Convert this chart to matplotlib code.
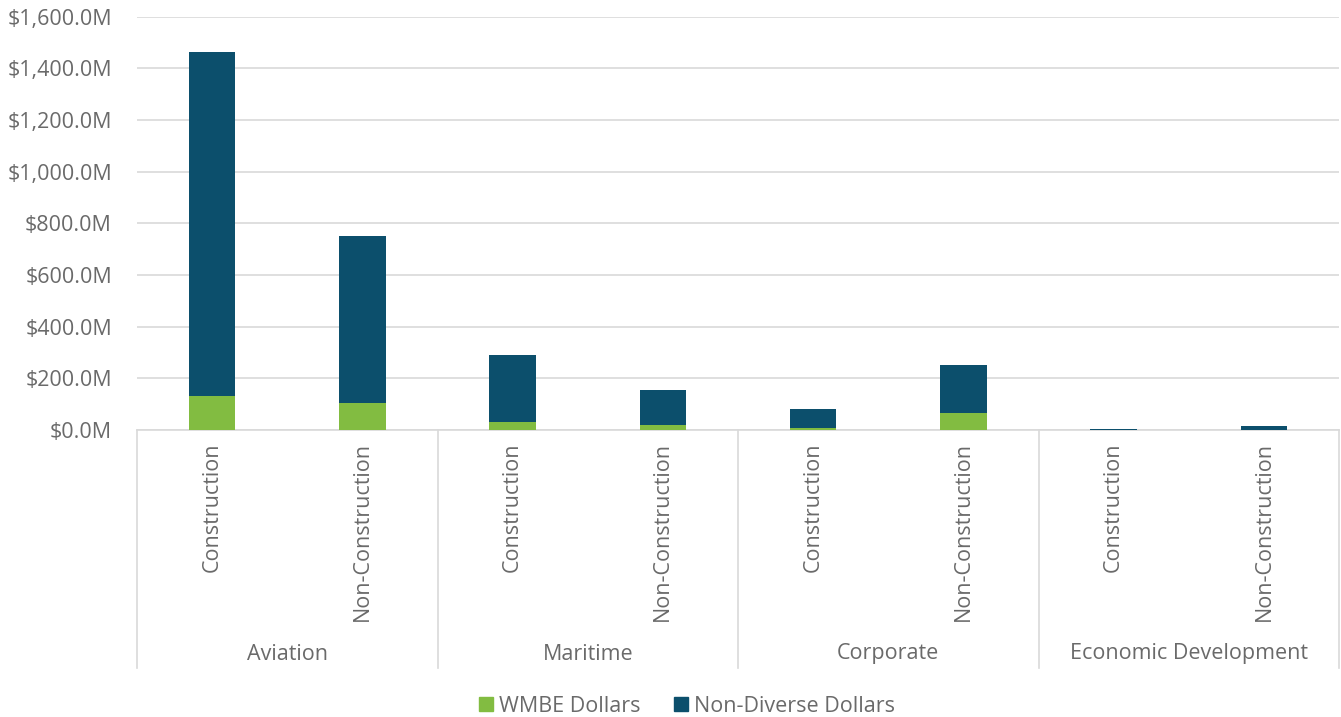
import matplotlib.pyplot as plt
import matplotlib.transforms as mtransforms
from matplotlib.patches import Patch
from matplotlib.ticker import FuncFormatter

plt.rcParams["font.family"] = ["Open Sans", "DejaVu Sans"]

groups = ["Aviation", "Maritime", "Corporate", "Economic Development"]
kinds = ["Construction", "Non-Construction"]

# $M, in group order, Construction then Non-Construction
wmbe = [133, 103, 32, 19, 9, 66, 0.5, 1]
non_diverse = [1329, 647, 258, 136, 72, 186, 3.5, 14]

GREEN = "#82BC41"
NAVY = "#0C4F6C"
TEXT = "#6A6A6A"
GRID = "#D9D9D9"
FS = 15.5

fig = plt.figure(figsize=(13.41, 7.17), dpi=100)
ax = fig.add_axes([137 / 1341, 1 - 430 / 717, 1202 / 1341, (430 - 16.7) / 717])

x = list(range(len(wmbe)))
ax.bar(x, wmbe, width=0.31, color=GREEN, zorder=3)
ax.bar(x, non_diverse, width=0.31, bottom=wmbe, color=NAVY, zorder=3)

ax.set_xlim(-0.5, 7.5)
ax.set_ylim(0, 1600)
ax.set_yticks(range(0, 1601, 200))
ax.yaxis.set_major_formatter(FuncFormatter(lambda v, _: f"${v:,.1f}M"))
ax.tick_params(axis="y", length=0, labelsize=FS, labelcolor=TEXT, pad=18)
ax.set_xticks([])
ax.grid(axis="y", color=GRID, linewidth=1.2, zorder=0)
for side in ["top", "right", "left"]:
    ax.spines[side].set_visible(False)
ax.spines["bottom"].set_color(GRID)
ax.spines["bottom"].set_linewidth(1.2)

trans = mtransforms.blended_transform_factory(ax.transData, ax.transAxes)
ax_h = 430 - 16.7

for i in x:
    ax.text(i, -12 / ax_h, kinds[i % 2], rotation=90, ha="center", va="top",
            fontsize=FS, color=TEXT, transform=trans)

for g, name in enumerate(groups):
    ax.text(2 * g + 0.5, -(654 - 430) / ax_h, name, ha="center", va="center",
            fontsize=FS, color=TEXT, transform=trans)

for b in [-0.5, 1.5, 3.5, 5.5, 7.5]:
    ax.plot([b, b], [0, -(668 - 430) / ax_h], color=GRID, linewidth=1.2,
            transform=trans, clip_on=False)

handles = [Patch(color=GREEN, label="WMBE Dollars"),
           Patch(color=NAVY, label="Non-Diverse Dollars")]
fig.legend(handles=handles, loc="center", bbox_to_anchor=(687 / 1341, 1 - 706 / 717),
           ncol=2, frameon=False, fontsize=FS, labelcolor=TEXT,
           handlelength=0.65, handleheight=0.65, handletextpad=0.25,
           columnspacing=1.6)

fig.savefig("out.png", dpi=100)
